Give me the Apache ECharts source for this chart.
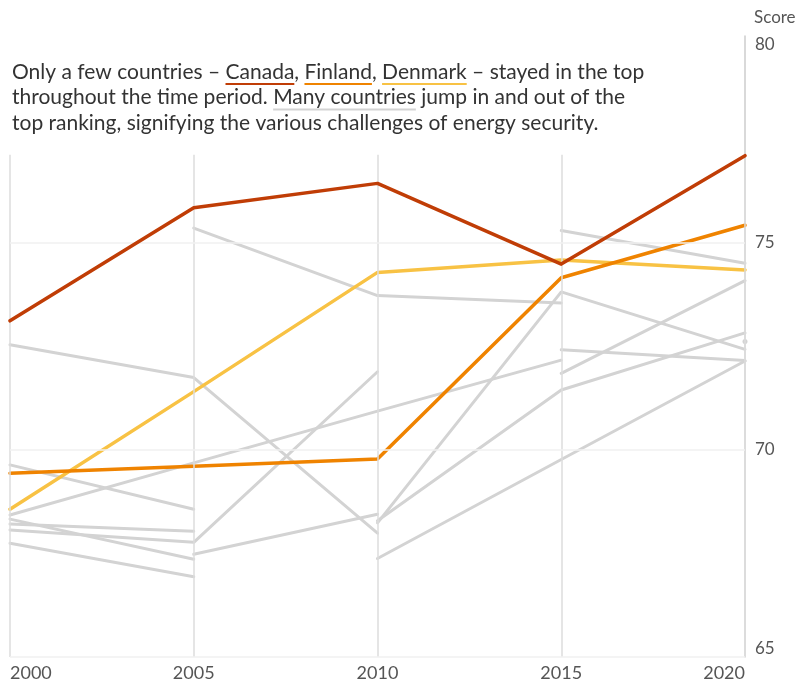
<!DOCTYPE html>
<html>
<head>
<meta charset="utf-8">
<script src="https://cdn.jsdelivr.net/npm/echarts@6/dist/echarts.min.js"></script>
<style>
  html, body { margin: 0; padding: 0; background: #fff; }
  #chart { width: 809px; height: 684px; }
</style>
</head>
<body>
<div id="chart"></div>
<script>
// years on the x axis
var years = [2000, 2005, 2010, 2015, 2020];
var yTicks = [65, 70, 75, 80];

// highlighted countries
var canada  = [73.12, 75.85, 76.44, 74.49, 77.11];
var finland = [69.44, 69.61, 69.78, 74.16, 75.43];
var denmark = [68.57, 71.41, 74.29, 74.59, 74.35];

// other countries, null = not in the top that year
var greyA = [null, 75.36, 73.73, 73.55, null];
var greyB = [72.54, 71.75, 67.99, null, null];
var greyD = [68.43, 69.69, 70.94, 72.17, null];
var greyE = [69.64, 68.57, null, null, null];
var greyF = [68.33, 67.36, null, null, null];
var greyG = [68.21, 68.04, null, null, null];
var greyH = [68.07, 67.77, 71.89, null, null];
var greyI = [67.75, 66.94, null, null, null];
var greyJ = [null, 67.48, 68.45, null, null];
var greyK = [null, null, 68.24, 73.82, 72.43];
var greyL = [null, null, 68.29, 71.45, 72.83];
var greyM = [null, null, 67.38, 69.77, 72.15];
var greyN = [null, null, null, 72.42, 72.16];
var greyO = [null, null, null, 71.85, 74.09];
var greyP = [null, null, null, 75.30, 74.51];
var greyQ = [null, null, null, null, 72.62];

var greys = [greyA, greyB, greyD, greyE, greyF, greyG, greyH, greyI, greyJ, greyK, greyL, greyM, greyN, greyO, greyP, greyQ];

var FONT = 'Lato';
var RED = '#c03d06', ORANGE = '#ef8300', YELLOW = '#f8c244', GREY = '#d3d3d3';

function pairs(arr) {
  return years.map(function (y, i) { return [y, arr[i]]; });
}

var chart = echarts.init(document.getElementById('chart'), null, { renderer: 'canvas' });

// title text with coloured underlines, words laid out by measuring
var titleLines = [
  [['Only a few countries \u2013 ', null], ['Canada', RED], [', ', null], ['Finland', ORANGE], [', ', null], ['Denmark', YELLOW], [' \u2013 stayed in the top', null]],
  [['throughout the time period. ', null], ['Many countries', GREY], [' jump in and out of the', null]],
  [['top ranking, signifying the various challenges of energy security.', null]]
];
var titleSize = 21;
var ctx = document.createElement('canvas').getContext('2d');
ctx.font = titleSize + 'px ' + FONT;
var graphics = [];
titleLines.forEach(function (line, li) {
  var x = 12;
  var y = 72 + li * 25.5;
  line.forEach(function (seg) {
    var w = ctx.measureText(seg[0]).width;
    graphics.push({
      type: 'text', x: x, y: y, silent: true,
      style: { text: seg[0], fill: '#333', font: titleSize + 'px ' + FONT, textVerticalAlign: 'middle' }
    });
    if (seg[1]) {
      graphics.push({
        type: 'rect', silent: true,
        shape: { x: x, y: y + 11, width: w, height: 2 },
        style: { fill: seg[1] }
      });
    }
    x += w;
  });
});

var series = [];
// vertical year lines and faint horizontal lines
series.push({
  type: 'line', data: [], silent: true, z: 1,
  markLine: {
    silent: true, symbol: 'none', label: { show: false },
    lineStyle: { color: '#dcdcdc', width: 1.5, type: 'solid' },
    data: years.map(function (y) { return [{ coord: [y, 77.13] }, { coord: [y, 65] }]; })
  }
});
series.push({
  type: 'line', data: [], silent: true, z: 1,
  markLine: {
    silent: true, symbol: 'none', label: { show: false },
    lineStyle: { color: '#f0f0f0', width: 1.5, type: 'solid' },
    data: yTicks.slice(0, 3).map(function (v) { return [{ coord: [2000, v] }, { coord: [2020, v] }]; })
  }
});

greys.forEach(function (g) {
  var count = g.filter(function (v) { return v !== null; }).length;
  series.push({
    type: 'line', data: pairs(g), z: 2,
    showSymbol: count === 1, symbol: 'circle', symbolSize: 5,
    itemStyle: { color: GREY },
    lineStyle: { color: GREY, width: 3, cap: 'round' },
    silent: true
  });
});

[[denmark, YELLOW], [finland, ORANGE], [canada, RED]].forEach(function (c, i) {
  series.push({
    type: 'line', data: pairs(c[0]), z: 3 + i,
    showSymbol: false,
    lineStyle: { color: c[1], width: 3.5, cap: 'round', join: 'round' },
    itemStyle: { color: c[1] },
    silent: true
  });
});

var option = {
  animation: false,
  backgroundColor: '#fff',
  textStyle: { fontFamily: FONT },
  grid: { left: 10, right: 64, top: 36, bottom: 27 },
  xAxis: {
    type: 'value', min: 2000, max: 2020, interval: 5,
    axisLine: { show: false }, axisTick: { show: false }, splitLine: { show: false },
    axisLabel: {
      color: '#555', fontSize: 18, margin: 7, fontFamily: FONT,
      alignMinLabel: 'left', alignMaxLabel: 'right',
      formatter: function (v) { return String(v); }
    }
  },
  yAxis: {
    type: 'value', position: 'right', min: 65, max: 80, interval: 5,
    name: 'Score', nameLocation: 'end', nameGap: 10,
    nameTextStyle: { color: '#555', fontSize: 17, align: 'left', padding: [0, 0, 0, 9], fontFamily: FONT },
    axisLine: { show: true, lineStyle: { color: '#cccccc', width: 1.5 } },
    axisTick: { show: false },
    splitLine: { show: false },
    axisLabel: {
      color: '#555', fontSize: 17, margin: 10, fontFamily: FONT,
      verticalAlignMinLabel: 'bottom', verticalAlignMaxLabel: 'top'
    }
  },
  graphic: graphics,
  series: series
};
chart.setOption(option);
</script>
</body>
</html>
